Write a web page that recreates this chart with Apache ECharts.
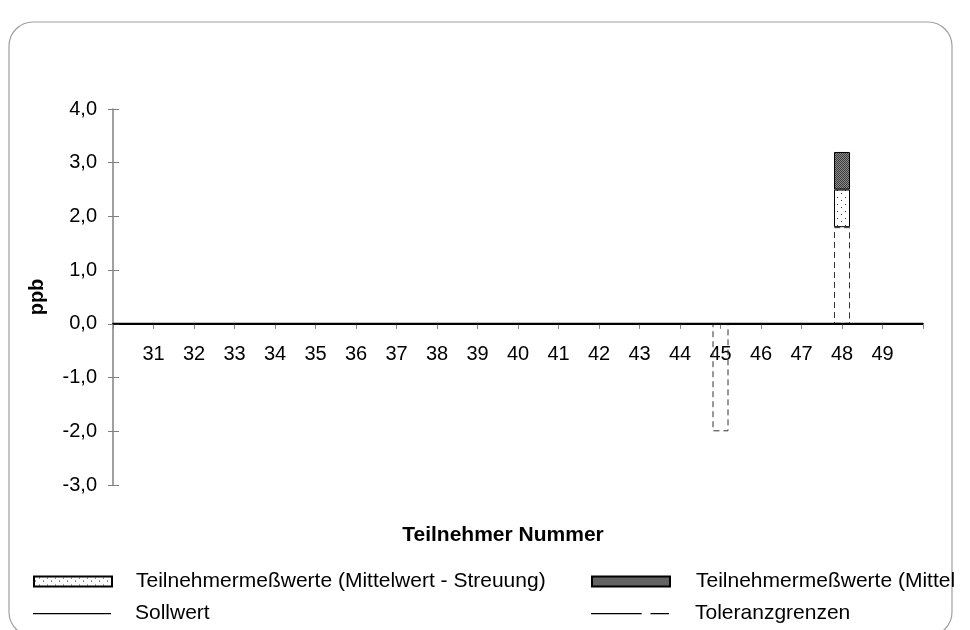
<!DOCTYPE html>
<html>
<head>
<meta charset="utf-8">
<script src="https://cdn.jsdelivr.net/npm/echarts@6/dist/echarts.min.js"></script>
<style>
  html, body { margin: 0; padding: 0; background: #fff; }
  #chart { width: 970px; height: 630px; }
</style>
</head>
<body>
<div id="chart"></div>
<script>
// Teilnehmer 30..50, 30 und 50 ohne Beschriftung (Rand)
var categories = ['', '31', '32', '33', '34', '35', '36', '37', '38', '39', '40',
    '41', '42', '43', '44', '45', '46', '47', '48', '49', ''];
var yTicks = [-3, -2, -1, 0, 1, 2, 3, 4];

var sollwert = [0, 0, 0, 0, 0, 0, 0, 0, 0, 0, 0, 0, 0, 0, 0, 0, 0, 0, 0, 0, 0];
var toleranz = [null, null, null, null, null, null, null, null, null, null, null,
    null, null, null, null, -2.0, null, null, 1.8, null, null];
var streuungUnten = [null, null, null, null, null, null, null, null, null, null, null,
    null, null, null, null, null, null, null, 0.7, null, null];
var streuungOben = [null, null, null, null, null, null, null, null, null, null, null,
    null, null, null, null, null, null, null, 0.7, null, null];

var NAME_UNTEN = 'Teilnehmermeßwerte (Mittelwert - Streuung)';
var NAME_OBEN = 'Teilnehmermeßwerte (Mittelwert + Streuung)';
var FONT = '"Liberation Sans", Arial, sans-serif';
var FS = 20;
var GRID_TOP = 109, GRID_BOTTOM = 145;

// Legendensymbole als Pfade (winzige Punkte oben/unten halten die Höhe)
var ICON_LINE = 'path://M0,0h.01v.01h-.01z M0,4.4h80v1.3h-80z M0,9.99h.01v.01h-.01z';
var ICON_DASH = 'path://M0,0h.01v.01h-.01z M0,4.4h52v1.3h-52z M61,4.4h19v1.3h-19z M0,9.99h.01v.01h-.01z';

function dotPattern() {
    var c = document.createElement('canvas');
    c.width = 8; c.height = 7;
    var ctx = c.getContext('2d');
    ctx.fillStyle = '#fff';
    ctx.fillRect(0, 0, 8, 7);
    ctx.fillStyle = '#333';
    ctx.fillRect(5, 1, 1, 1);
    ctx.fillRect(1, 4, 1, 1);
    return { image: c, repeat: 'repeat' };
}

function darkPattern() {
    var c = document.createElement('canvas');
    c.width = 2; c.height = 2;
    var ctx = c.getContext('2d');
    ctx.fillStyle = '#8c8c8c';
    ctx.fillRect(0, 0, 2, 2);
    ctx.fillStyle = '#3a3a3a';
    ctx.fillRect(0, 0, 1, 1);
    ctx.fillRect(1, 1, 1, 1);
    return { image: c, repeat: 'repeat' };
}

var chart = echarts.init(document.getElementById('chart'));

// x-Achse liegt auf der Nulllinie: Abstand vom unteren Rand des Plotbereichs
var plotH = 630 - GRID_TOP - GRID_BOTTOM;
var zeroOffset = plotH * (0 - yTicks[0]) / (yTicks[yTicks.length - 1] - yTicks[0]);

var legendText = { fontFamily: FONT, fontSize: 21, color: '#000', padding: [0, 0, 0, 19] };

chart.setOption({
    animation: false,
    backgroundColor: '#fff',
    textStyle: { fontFamily: FONT },
    graphic: [{
        type: 'rect',
        shape: { x: 9, y: 22, width: 943, height: 614, r: 24 },
        style: { fill: 'none', stroke: '#a0a0a0', lineWidth: 1.2 },
        z: -1
    }],
    title: {
        text: 'Teilnehmer Nummer',
        left: 498,
        top: 520,
        textAlign: 'center',
        textStyle: { fontFamily: FONT, fontSize: 21, fontWeight: 'bold', color: '#000' }
    },
    legend: [{
        left: 28, top: 566, itemWidth: 78, itemHeight: 10,
        data: [{ name: NAME_UNTEN, icon: 'rect' }],
        textStyle: legendText
    }, {
        left: 28, top: 598, itemWidth: 78, itemHeight: 10,
        data: [{ name: 'Sollwert', icon: ICON_LINE }],
        textStyle: legendText
    }, {
        left: 586, top: 566, itemWidth: 78, itemHeight: 10,
        data: [{ name: NAME_OBEN, icon: 'rect' }],
        textStyle: {
            fontFamily: FONT, fontSize: 21, color: '#000', padding: [0, 0, 0, 21],
            width: 272, overflow: 'truncate', ellipsis: ''
        }
    }, {
        left: 586, top: 598, itemWidth: 78, itemHeight: 10,
        data: [{ name: 'Toleranzgrenzen', icon: ICON_DASH }],
        textStyle: { fontFamily: FONT, fontSize: 21, color: '#000', padding: [0, 0, 0, 21] }
    }],
    grid: { left: 113, right: 47, top: GRID_TOP, bottom: GRID_BOTTOM },
    xAxis: {
        type: 'category',
        data: categories,
        boundaryGap: false,
        offset: -zeroOffset,
        axisLine: { onZero: false, lineStyle: { color: '#000', width: 2 } },
        axisTick: { show: true, interval: 0, length: 5, lineStyle: { color: '#808080' } },
        axisLabel: { interval: 0, margin: 21, fontFamily: FONT, fontSize: FS, color: '#000' },
        splitLine: { show: false }
    },
    yAxis: [{
        type: 'value',
        min: yTicks[0],
        max: yTicks[yTicks.length - 1],
        interval: 1,
        name: 'ppb',
        nameLocation: 'middle',
        nameRotate: 90,
        nameGap: 66,
        nameTextStyle: { fontFamily: FONT, fontSize: FS, fontWeight: 'bold', color: '#000' },
        axisLine: { show: true, lineStyle: { color: '#808080', width: 1.5 } },
        axisTick: { show: true, length: 5, lineStyle: { color: '#808080' } },
        axisLabel: {
            margin: 16, fontFamily: FONT, fontSize: FS, color: '#000',
            formatter: function (v) { return v.toFixed(1).replace('.', ','); }
        },
        splitLine: { show: false }
    }, {
        // zweite Achse nur für die nach innen zeigenden Striche (Kreuzstriche)
        type: 'value',
        position: 'left',
        min: yTicks[0],
        max: yTicks[yTicks.length - 1],
        interval: 1,
        axisLine: { show: false },
        axisTick: { show: true, inside: true, length: 6, lineStyle: { color: '#808080' } },
        axisLabel: { show: false },
        splitLine: { show: false }
    }],
    series: [{
        name: 'Toleranzgrenzen',
        type: 'line',
        data: [],
        symbol: 'none',
        lineStyle: { color: '#000', width: 1 },
        itemStyle: { color: '#000' }
    }, {
        name: 'Toleranz',
        type: 'bar',
        stack: 'werte',
        barWidth: 16,
        data: toleranz,
        itemStyle: { color: 'rgba(0,0,0,0)', borderColor: '#333', borderWidth: 1, borderType: [6, 4] }
    }, {
        name: NAME_UNTEN,
        type: 'bar',
        stack: 'werte',
        barWidth: 16,
        data: streuungUnten,
        itemStyle: { color: dotPattern(), borderColor: '#000', borderWidth: 1 }
    }, {
        name: NAME_OBEN,
        type: 'bar',
        stack: 'werte',
        barWidth: 16,
        data: streuungOben,
        itemStyle: { color: darkPattern(), borderColor: '#000', borderWidth: 1 }
    }, {
        name: 'Sollwert',
        type: 'line',
        data: sollwert,
        symbol: 'none',
        lineStyle: { color: '#000', width: 2 },
        itemStyle: { color: '#000' },
        z: 5
    }]
});
</script>
</body>
</html>
